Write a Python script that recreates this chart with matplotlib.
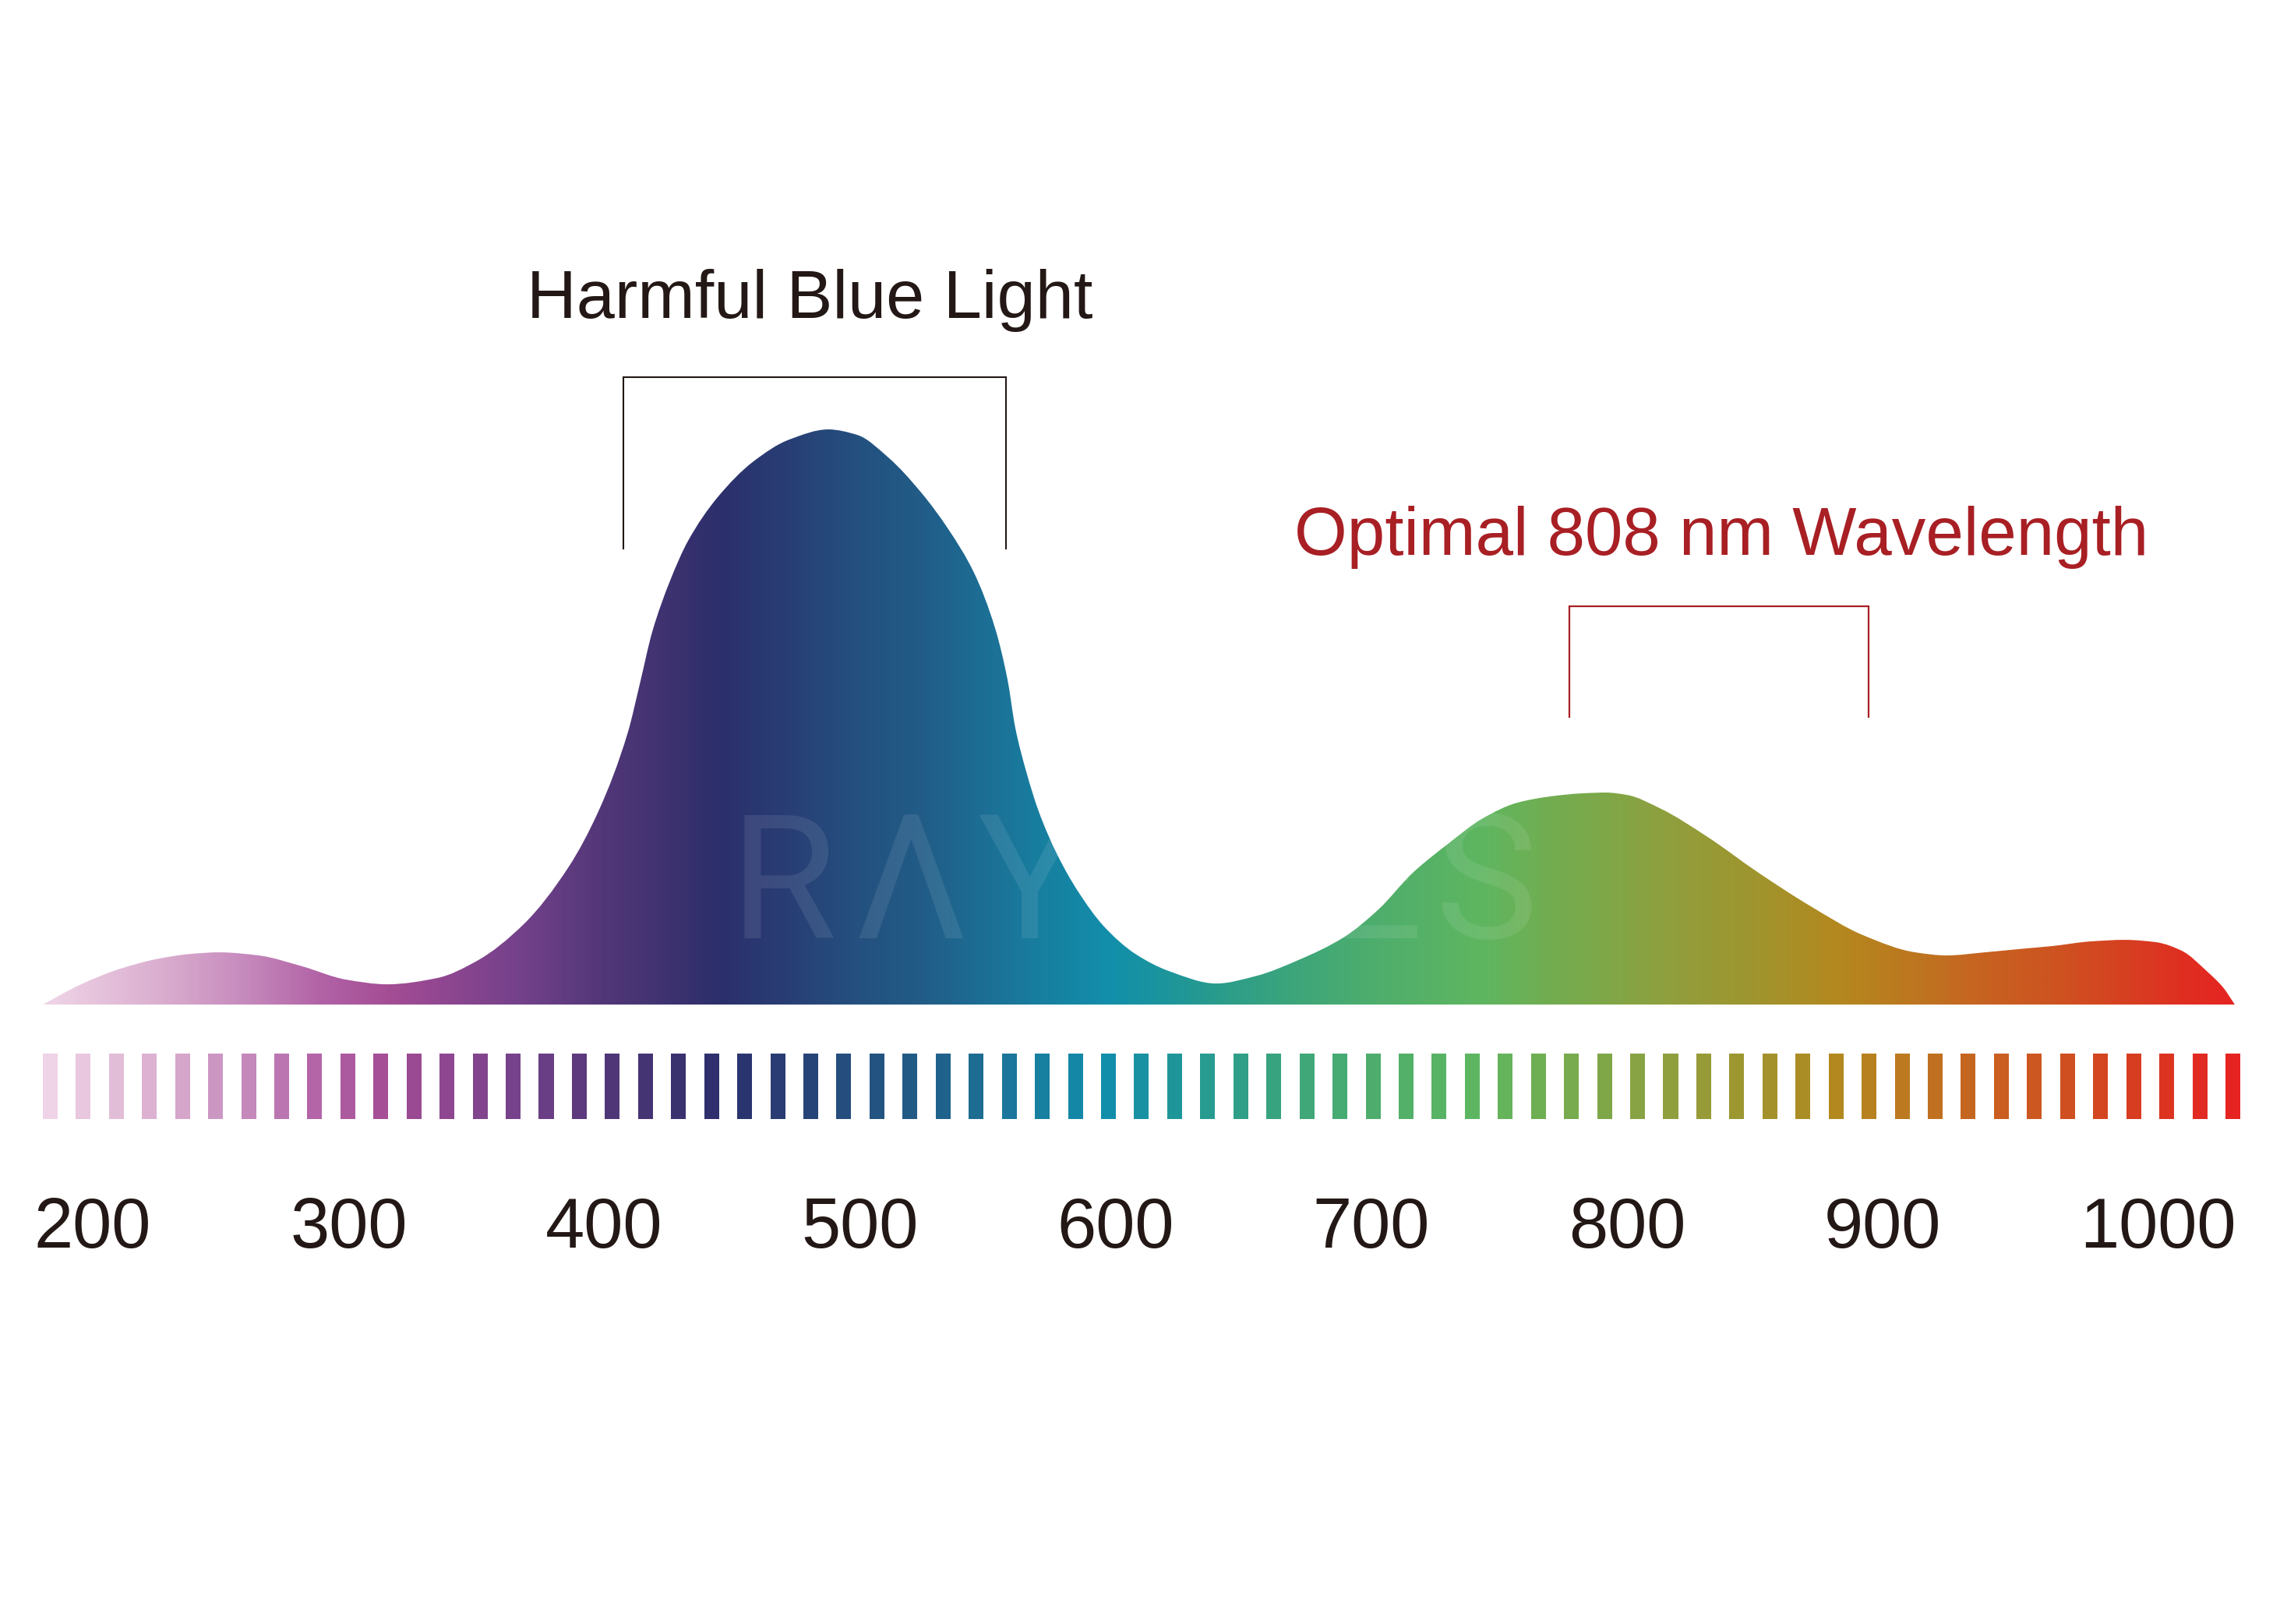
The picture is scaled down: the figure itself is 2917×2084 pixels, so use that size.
import numpy as np
import matplotlib
matplotlib.use("Agg")
import matplotlib.pyplot as plt
from matplotlib.path import Path
from matplotlib.patches import PathPatch
from matplotlib.colors import LinearSegmentedColormap, Normalize
from matplotlib.transforms import ScaledTranslation

# ---------------- data ----------------
curve_nm = [202.44, 216.77, 232.31, 247.85, 260.35, 271.32, 286.86, 303.93, 321.0, 337.15,
            356.65, 372.2, 390.48, 408.16, 419.74, 431.32, 435.89, 440.77, 447.78, 454.79,
            466.37, 480.39, 494.41, 509.65, 520.92, 533.11, 546.22, 556.58, 566.64, 574.87,
            579.74, 582.79, 587.06, 591.93, 599.25, 607.17, 617.54, 629.73, 642.83, 661.42,
            677.27, 693.42, 711.1, 724.81, 738.22, 751.94, 765.65, 779.06, 791.86, 804.36,
            813.8, 822.03, 835.44, 853.12, 873.54, 893.96, 914.38, 934.8, 946.99, 961.93,
            978.07, 988.13, 1003.37, 1016.78, 1028.97, 1039.03, 1049.08, 1055.18, 1059.75]
curve_val = [0, 3.39, 6.17, 7.99, 8.81, 9.08, 8.54, 6.64, 4.34, 3.52,
             4.61, 7.59, 13.96, 23.98, 33.6, 47.43, 55.69, 64.77, 73.71, 80.62,
             88.21, 94.44, 98.24, 100, 99.05, 95.12, 88.89, 82.66, 75.07, 65.45,
             56.5, 48.1, 40.51, 33.6, 26.02, 19.78, 13.55, 8.81, 5.83, 3.66,
             5.01, 7.72, 11.65, 16.53, 22.9, 27.91, 32.38, 35.09, 36.18, 36.72,
             36.86, 36.45, 34.01, 29.27, 22.9, 17.07, 12.06, 9.08, 8.54, 9.08,
             9.76, 10.16, 10.98, 11.25, 10.84, 9.35, 5.69, 2.98, 0]

tick_values = [200, 300, 400, 500, 600, 700, 800, 900, 1000]
tick_labels = ["200", "300", "400", "500", "600", "700", "800", "900", "1000"]

bar_centers = np.linspace(205.3, 1059.0, 67)

harmful_band = [429.5, 579.2]
optimal_band = [799.5, 916.5]
harmful_label = "Harmful Blue Light"
optimal_label = "Optimal 808 nm Wavelength"

watermark_letters = ["R", "Λ", "Y", "E", "S"]
watermark_nm = [471.2, 520.0, 568.0, 703.6, 746.9]

gradient_nm = [202, 250, 280, 310, 337, 360, 390, 420, 448, 466, 495, 521, 546, 567,
               590, 620, 645, 662, 694, 725, 766, 792, 814, 835, 874, 905, 935, 962,
               988, 1017, 1039, 1060]
gradient_colors = ["#f0d5e7", "#d9acce", "#c68bbd", "#b263a6", "#a44d95", "#8e4690",
                   "#72418a", "#533778", "#3d3270", "#2c2f6b", "#283f75", "#24507f",
                   "#215c87", "#1d6c93", "#187d9f", "#128fab", "#1e9699", "#2a9c8c",
                   "#3ea679", "#4fae6c", "#5fb660", "#72ad50", "#7fa748", "#8ea03f",
                   "#a0942d", "#b4881f", "#bd7620", "#c76220", "#cd5420", "#d64021",
                   "#df2f22", "#e52421"]

# ---------------- style ----------------
FONT = ["Liberation Sans", "DejaVu Sans"]
plt.rcParams["font.family"] = FONT
DARK = "#231815"
RED = "#a81f24"

W, H = 2917, 2084
fig = plt.figure(figsize=(W / 100, H / 100), dpi=100)
fig.patch.set_facecolor("white")

XL = (185.68, 1074.7)
ax = fig.add_axes([0, 0, 1, 1])
ax.set_xlim(*XL)
ax.set_ylim(-107.7, 174.66)
ax.axis("off")

g0, g1 = gradient_nm[0], gradient_nm[-1]
cmap = LinearSegmentedColormap.from_list(
    "spectrum", [((n - g0) / (g1 - g0), c) for n, c in zip(gradient_nm, gradient_colors)], N=1024)
norm = Normalize(g0, g1)


# ---- smooth outline: monotone cubic Hermite segments drawn as Bezier curves ----
def pchip_slopes(x, y):
    x = np.asarray(x, float)
    y = np.asarray(y, float)
    h = np.diff(x)
    d = np.diff(y) / h
    m = np.zeros_like(y)
    for k in range(1, len(x) - 1):
        if d[k - 1] * d[k] <= 0:
            m[k] = 0.0
        else:
            w1 = 2 * h[k] + h[k - 1]
            w2 = h[k] + 2 * h[k - 1]
            m[k] = (w1 + w2) / (w1 / d[k - 1] + w2 / d[k])
    m[0] = d[0]
    m[-1] = d[-1]
    return m


xs = np.asarray(curve_nm, float)
ys = np.asarray(curve_val, float)
ms = pchip_slopes(xs, ys)
verts = [(xs[0], ys[0])]
codes = [Path.MOVETO]
for i in range(len(xs) - 1):
    dx = xs[i + 1] - xs[i]
    verts += [(xs[i] + dx / 3, ys[i] + ms[i] * dx / 3),
              (xs[i + 1] - dx / 3, ys[i + 1] - ms[i + 1] * dx / 3),
              (xs[i + 1], ys[i + 1])]
    codes += [Path.CURVE4] * 3
verts.append((xs[0], ys[0]))
codes.append(Path.CLOSEPOLY)
patch = PathPatch(Path(verts, codes), facecolor="none", edgecolor="none")
ax.add_patch(patch)

grad = np.linspace(g0, g1, 1200)[np.newaxis, :]
im = ax.imshow(grad, extent=[g0, g1, -0.3, 102], aspect="auto", cmap=cmap, norm=norm,
               interpolation="bilinear", origin="lower", zorder=1)
im.set_clip_path(patch)

# ---- watermark (only visible on the coloured area) ----
for letter, x in zip(watermark_letters, watermark_nm):
    t = ax.text(x, 11.5, letter, fontsize=160, color="white", alpha=0.09, ha="left",
                va="baseline", family=["Roboto", "DejaVu Sans"], fontweight="normal", zorder=2)
    t.set_clip_path(patch)

# ---- labels and brackets ----
ax.text(np.mean(harmful_band) - 1.8, 119.4, harmful_label, fontsize=63.5, color=DARK,
        ha="center", va="baseline")
ax.plot([harmful_band[0], harmful_band[0], harmful_band[1], harmful_band[1]],
        [79.3, 109.1, 109.1, 79.3], color=DARK, lw=1.5, solid_joinstyle="miter")

ax.text(np.mean(optimal_band) + 1, 78.2, optimal_label, fontsize=62.7, color=RED,
        ha="center", va="baseline")
ax.plot([optimal_band[0], optimal_band[0], optimal_band[1], optimal_band[1]],
        [50.0, 69.2, 69.2, 50.0], color=RED, lw=1.6, solid_joinstyle="miter")

# ---- spectrum bar strip with tick labels ----
ax2 = fig.add_axes([0, 1 - 1436 / H, 1, 84 / H])
ax2.set_xlim(*XL)
ax2.set_ylim(0, 1)
ax2.bar(bar_centers, 1, width=5.8, bottom=0, color=cmap(norm(bar_centers)), linewidth=0)
for s in ax2.spines.values():
    s.set_visible(False)
ax2.set_yticks([])
ax2.set_xticks(tick_values)
ax2.set_xticklabels(tick_labels, ha="left", fontsize=65, color=DARK)
ax2.tick_params(axis="x", length=0, pad=71)
shift = ScaledTranslation(-3 / 100, 0, fig.dpi_scale_trans)
for lab in ax2.get_xticklabels():
    lab.set_transform(lab.get_transform() + shift)
ax2.patch.set_alpha(0)

fig.savefig("out.png", dpi=100, facecolor="white")
